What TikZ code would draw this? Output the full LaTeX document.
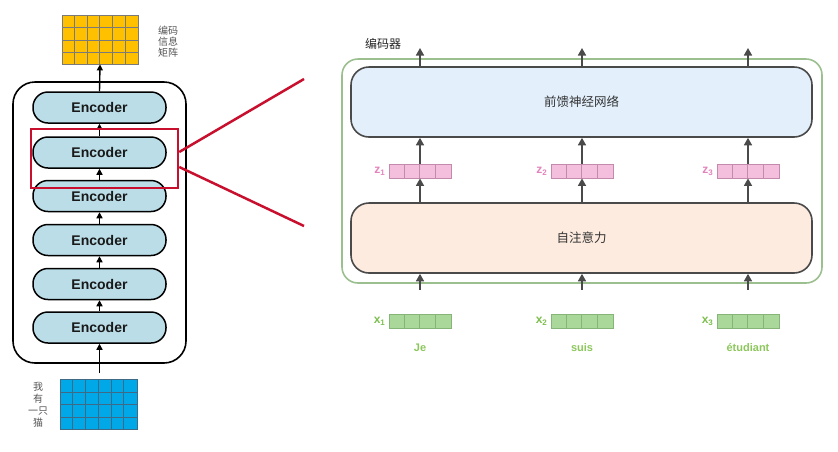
\documentclass[tikz,border=0pt]{standalone}
\usepackage{fontspec}
\setmainfont{Liberation Sans}
\newfontfamily\cjk{Noto Sans CJK SC}
\usetikzlibrary{arrows.meta}
\definecolor{encfill}{HTML}{BADDE8}
\definecolor{ylw}{HTML}{FFC000}
\definecolor{blu}{HTML}{00A8E8}
\definecolor{gridln}{HTML}{7A7A7A}
\definecolor{bgridln}{HTML}{3E6A86}
\definecolor{redz}{HTML}{C8102E}
\definecolor{grn}{HTML}{9CBF90}
\definecolor{ffnfill}{HTML}{E3F0FC}
\definecolor{attfill}{HTML}{FDEBDF}
\definecolor{boxln}{HTML}{4A4A4A}
\definecolor{pinkf}{HTML}{F4BEDD}
\definecolor{pinkd}{HTML}{C48AAE}
\definecolor{pinkt}{HTML}{E383BC}
\definecolor{grnf}{HTML}{A9D89A}
\definecolor{grnd}{HTML}{86B677}
\definecolor{grnt}{HTML}{7CBF4E}
\definecolor{grnw}{HTML}{8CC75C}
\definecolor{graytxt}{HTML}{555555}
\tikzset{
  encoder/.style={draw=black, line width=1.5pt, fill=encfill, rounded corners=15pt,
    minimum width=133pt, minimum height=31pt, inner sep=0pt,
    font=\fontsize{14}{16}\selectfont\bfseries, text=black!90},
  larr/.style={line width=1.4pt, -{Triangle[length=6pt,width=6pt]}},
  rarr/.style={draw=boxln, line width=1.6pt, -{Triangle[length=7.5pt,width=8pt]}},
  bigbox/.style={draw=boxln, line width=1.6pt, rounded corners=18pt,
    minimum width=461pt, minimum height=70pt, inner sep=0pt,
    font=\cjk\fontsize{12.5}{14}\selectfont, text=black!80},
  gridbox/.style={inner sep=0pt, line width=0.8pt},
  cjklabel/.style={font=\cjk\fontsize{10}{12}\selectfont, text=graytxt, align=center, inner sep=0pt},
  vlab/.style={anchor=east, inner sep=0pt, font=\fontsize{12}{14}\selectfont\bfseries},
  word/.style={inner sep=0pt, font=\fontsize{11}{13}\selectfont\bfseries, text=grnw},
}
\newcommand{\cellrow}[5]{%
  \node[draw=#5, fill=#4, minimum width=62pt, minimum height=14pt, inner sep=0pt, line width=0.8pt] (#1) at (#2,#3) {};
  \foreach \k in {1,2,3} \draw[#5, line width=0.8pt] ([xshift=\k*15.5pt]#1.south west) -- ([xshift=\k*15.5pt]#1.north west);
}
\newcommand{\matgrid}[7]{% name, cx, cy, w, h, fill, line
  \node[gridbox, draw=#7, fill=#6, minimum width=#4pt, minimum height=#5pt] (#1) at (#2,#3) {};
  \foreach \k in {1,...,5} \draw[#7, line width=0.8pt] ([xshift=\k*#4pt/6]#1.south west) -- ([xshift=\k*#4pt/6]#1.north west);
  \foreach \k in {1,2,3} \draw[#7, line width=0.8pt] ([yshift=\k*#5pt/4]#1.south west) -- ([yshift=\k*#5pt/4]#1.south east);
}
\begin{document}
\begin{tikzpicture}[x=1pt, y=-1pt]
\useasboundingbox (0,0) rectangle (838,451);
% ---------- left stack ----------
\matgrid{ygrid}{100}{39.5}{76}{49}{ylw}{gridln}
\node[cjklabel, font=\cjk\fontsize{10}{11}\selectfont] (ylab) at (168,42) {编码\\信息\\矩阵};
\node[draw=black, line width=1.6pt, rounded corners=22pt, minimum width=173pt, minimum height=281pt] (stack) at (99.5,222.5) {};
\foreach \i/\y in {1/107.5,2/152.5,3/196,4/240,5/284,6/327.5}
  \node[encoder] (e\i) at (99.5,\y) {Encoder};
\draw[larr] (e1.north) -- (ygrid.south);
\foreach \a/\b in {1/2,2/3,3/4,4/5,5/6}
  \draw[larr] (e\b.north) -- (e\a.south);
\matgrid{bgrid}{98.5}{404}{77}{50}{blu}{bgridln}
\coordinate (bstart) at (99.5,373);
\draw[larr] (bstart) -- (e6.south);
\node[cjklabel] (blab) at (38,405) {我\\有\\一只\\猫};
% ---------- zoom ----------
\node[draw=redz, line width=2.5pt, minimum width=147pt, minimum height=59pt, inner sep=0pt] (zoom) at (104.5,158.5) {};
\coordinate (r1) at (304,79);
\coordinate (r2) at (304,226);
\draw[redz, line width=2.5pt] ([yshift=6.5pt]zoom.east) -- (r1);
\draw[redz, line width=2.5pt] ([yshift=-8.5pt]zoom.east) -- (r2);
% ---------- right encoder ----------
\node[draw=grn, line width=1.6pt, rounded corners=16pt, minimum width=480pt, minimum height=224pt] (enc) at (582,171) {};
\node[font=\cjk\fontsize{12}{14}\selectfont, text=black!85, inner sep=0pt] (enclab) at (383,44) {编码器};
\node[bigbox, fill=ffnfill] (ffn) at (581.5,102) {前馈神经网络};
\node[bigbox, fill=attfill] (att) at (581.5,238) {自注意力};
\foreach \i/\x/\w in {1/420/Je,2/582/suis,3/748/étudiant}{
  \cellrow{z\i}{\x}{171}{pinkf}{pinkd}
  \node[vlab, text=pinkt] (zl\i) at ([xshift=-3pt]z\i.west) {z\textsubscript{\i}};
  \cellrow{x\i}{\x}{321.5}{grnf}{grnd}
  \node[vlab, text=grnt] (xl\i) at ([xshift=-3pt]x\i.west) {x\textsubscript{\i}};
  \node[word] (w\i) at (\x,348) {\w};
  \coordinate (top\i) at (\x,48);
  \coordinate (in\i) at (\x,290);
  \draw[rarr] (ffn.north -| top\i) -- (top\i);
  \draw[rarr] (z\i.north) -- (ffn.south -| z\i.north);
  \draw[rarr] (att.north -| z\i.south) -- (z\i.south);
  \draw[rarr] (in\i) -- (att.south -| in\i);
}
\end{tikzpicture}
\end{document}
